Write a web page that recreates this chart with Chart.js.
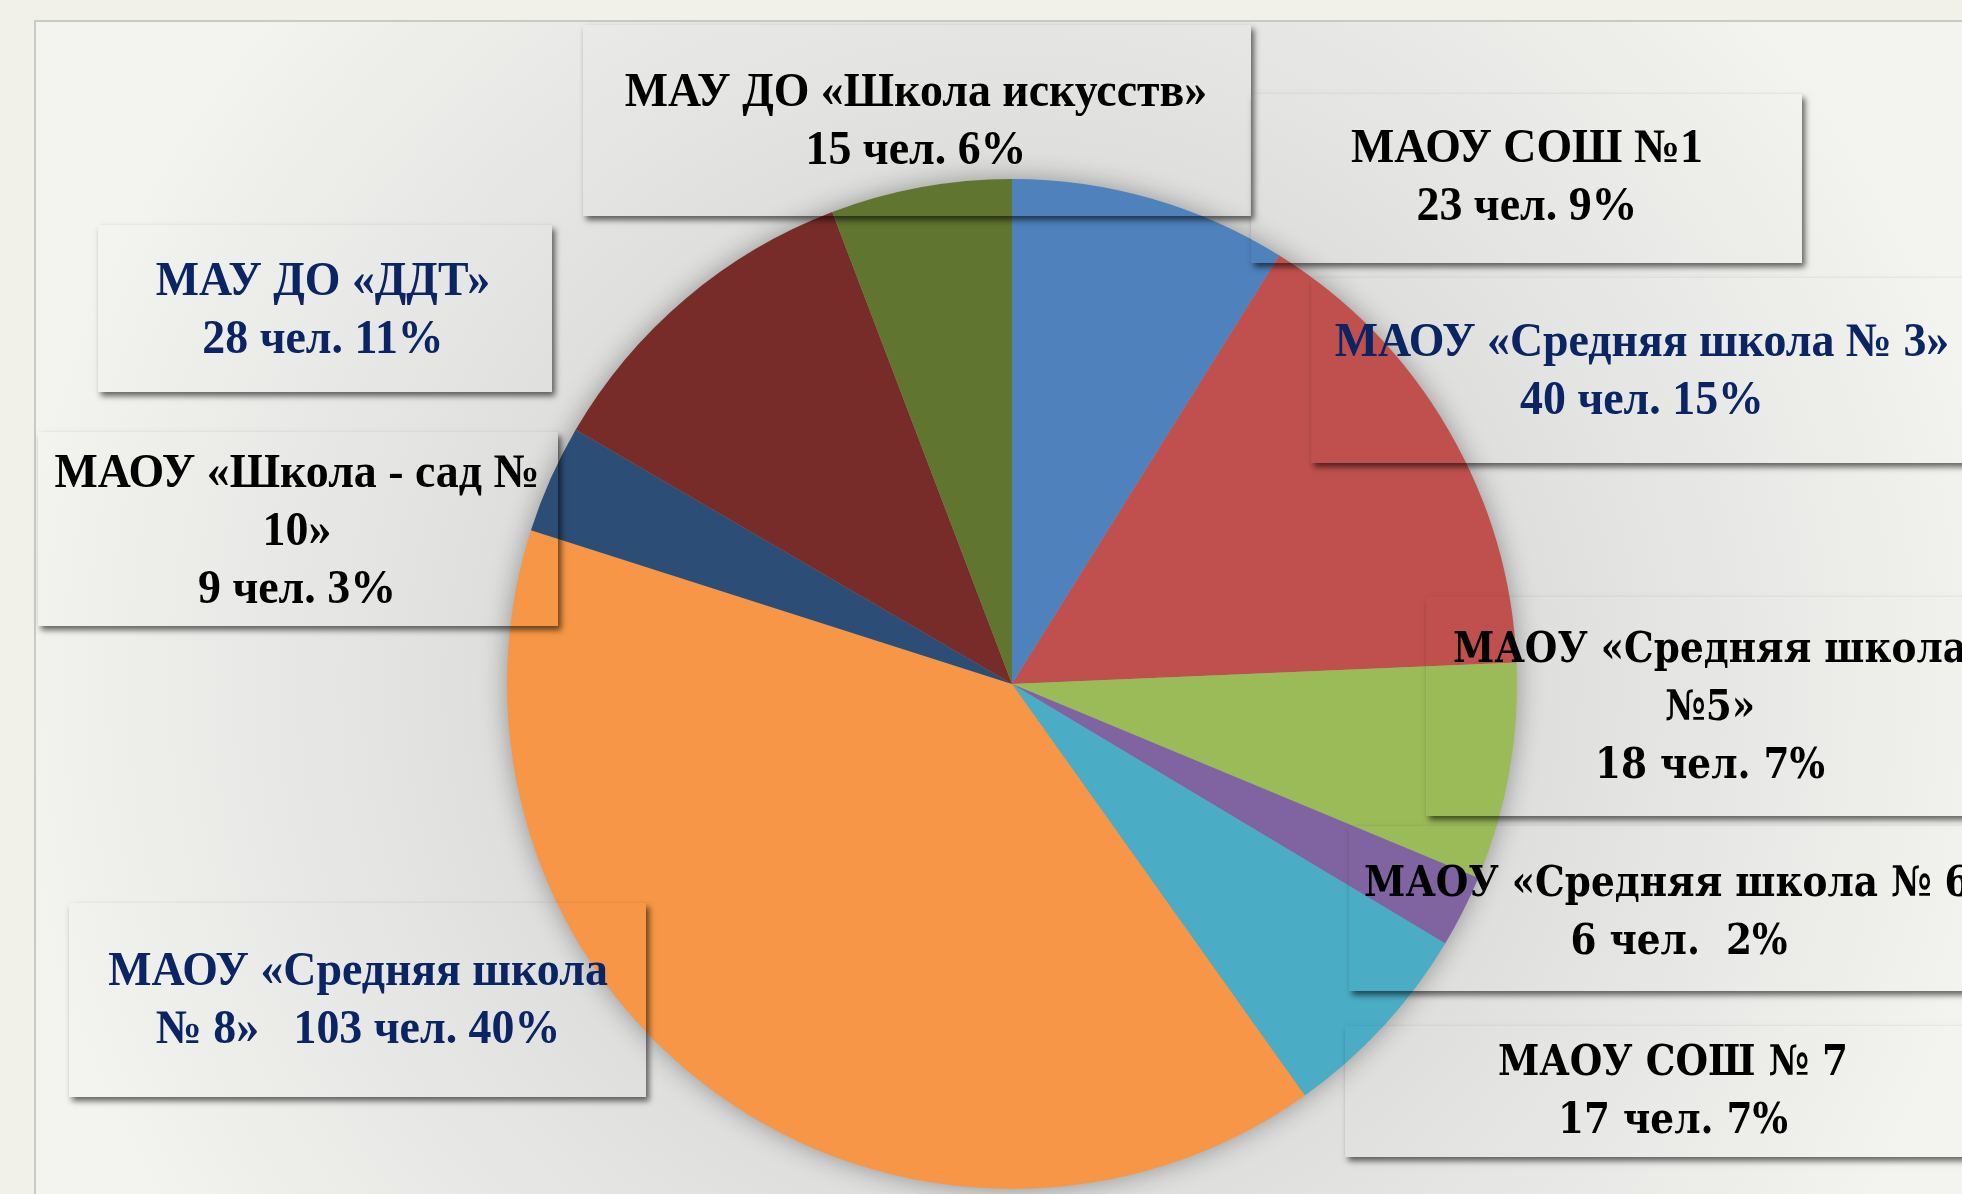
<!DOCTYPE html>
<html lang="ru">
<head>
<meta charset="utf-8">
<title>Распределение по учреждениям</title>
<script src="https://cdn.jsdelivr.net/npm/chart.js@4/dist/chart.umd.min.js"></script>
<style>
  html, body { margin: 0; padding: 0; background: #f1f1ea; }
  #wrap { width: 1962px; height: 1194px; position: relative; }
</style>
</head>
<body>
<div id="wrap"><canvas id="chartPie"></canvas></div>
<script>
// данные диаграммы (по часовой стрелке от 12 часов)
const categories = [
    'МАОУ СОШ №1',
    'МАОУ «Средняя школа № 3»',
    'МАОУ «Средняя школа №5»',
    'МАОУ «Средняя школа № 6»',
    'МАОУ СОШ № 7',
    'МАОУ «Средняя школа № 8»',
    'МАОУ «Школа - сад № 10»',
    'МАУ ДО «ДДТ»',
    'МАУ ДО «Школа искусств»'
];
const people = [23, 40, 18, 6, 17, 103, 9, 28, 15];
const shares = [9, 15, 7, 2, 7, 40, 3, 11, 6];

// как подписи разбиты на строки на слайде ({n} - человек, {p} - процент)
const captionLines = [
    ['МАОУ СОШ №1', '{n} чел. {p}%'],
    ['МАОУ «Средняя школа № 3»', '{n} чел. {p}%'],
    ['МАОУ «Средняя школа', '№5»', '{n} чел. {p}%'],
    ['МАОУ «Средняя школа № 6»', '{n} чел.  {p}%'],
    ['МАОУ СОШ № 7', '{n} чел. {p}%'],
    ['МАОУ «Средняя школа', '№ 8»   {n} чел. {p}%'],
    ['МАОУ «Школа - сад №', '10»', '{n} чел. {p}%'],
    ['МАУ ДО «ДДТ»', '{n} чел. {p}%'],
    ['МАУ ДО «Школа искусств»', '{n} чел. {p}%']
];

const colors = ['#4F81BD', '#C0504D', '#9BBB59', '#8064A2', '#4BACC6',
                '#F79646', '#2C4D75', '#772C2A', '#5F7530'];

// оформление выносок: рамка [x0, y0, x1, y1], центр текста, первая строка, шрифт, цвет
const NAVY = '#0b2463';
const boxes = [
    { r: [1251, 94, 1802, 263],   cx: 1527, y: 150, f: 'times', c: '#000' },
    { r: [1311, 278, 1990, 463],  cx: 1642, y: 344, f: 'times', c: NAVY },
    { r: [1426, 597, 1990, 816],  cx: 1710, y: 651, f: 'pal',   c: '#000' },
    { r: [1349, 826, 1990, 991],  cx: 1679, y: 885, f: 'pal',   c: '#000' },
    { r: [1345, 1026, 1990, 1157], cx: 1673, y: 1064, f: 'pal', c: '#000' },
    { r: [69, 903, 646, 1097],    cx: 358,  y: 973, f: 'times', c: NAVY },
    { r: [38, 432, 558, 626],     cx: 297,  y: 475, f: 'times', c: '#000' },
    { r: [98, 225, 552, 392],     cx: 323,  y: 283, f: 'times', c: NAVY },
    { r: [583, 25, 1251, 216],    cx: 916,  y: 94,  f: 'times', c: '#000' }
];
const LINE = 58;

const backdrop = {
    id: 'backdrop',
    beforeDraw(chart) {
        const ctx = chart.ctx;
        const a = chart.getDatasetMeta(0).data[0];
        ctx.save();
        ctx.fillStyle = '#f1f1ea';
        ctx.fillRect(0, 0, chart.width, chart.height);
        const g = ctx.createRadialGradient(a.x, a.y, a.outerRadius * 0.6, a.x, a.y, a.outerRadius * 2.0);
        g.addColorStop(0, '#d5d5d5');
        g.addColorStop(0.45, '#e3e3e2');
        g.addColorStop(1, '#f3f3ef');
        ctx.fillStyle = g;
        ctx.fillRect(35, 21, chart.width, chart.height);
        ctx.strokeStyle = '#c9c9c6';
        ctx.lineWidth = 2;
        ctx.strokeRect(35, 21, chart.width + 10, chart.height + 10);
        ctx.restore();
    },
    beforeDatasetsDraw(chart) {
        const ctx = chart.ctx;
        const a = chart.getDatasetMeta(0).data[0];
        ctx.save();
        ctx.shadowColor = 'rgba(0,0,0,0.4)';
        ctx.shadowBlur = 28;
        ctx.fillStyle = '#999';
        ctx.beginPath();
        ctx.arc(a.x, a.y, a.outerRadius - 2, 0, Math.PI * 2);
        ctx.fill();
        ctx.restore();
    },
    afterDatasetsDraw(chart) {
        const ctx = chart.ctx;
        boxes.forEach((b, i) => {
            const [x0, y0, x1, y1] = b.r;
            // тень рамки (сама рамка прозрачная)
            ctx.save();
            ctx.beginPath();
            ctx.rect(0, 0, chart.width, chart.height);
            ctx.rect(x0, y0, x1 - x0, y1 - y0);
            ctx.clip('evenodd');
            ctx.shadowColor = 'rgba(0,0,0,0.6)';
            ctx.shadowBlur = 6;
            ctx.shadowOffsetX = 3;
            ctx.shadowOffsetY = 4;
            ctx.fillStyle = '#888';
            ctx.fillRect(x0, y0, x1 - x0, y1 - y0);
            ctx.restore();

            ctx.save();
            ctx.fillStyle = b.c;
            ctx.textAlign = 'center';
            ctx.textBaseline = 'middle';
            const lines = captionLines[i].map(t =>
                t.replace('{n}', people[i]).replace('{p}', shares[i]));
            lines.forEach((t, k) => {
                const ty = b.y + k * LINE;
                ctx.save();
                ctx.translate(b.cx, ty);
                if (b.f === 'times') {
                    ctx.font = 'bold 48px "Liberation Serif", "Times New Roman", serif';
                    ctx.scale(0.955, 1);
                } else {
                    ctx.font = 'bold 42px "DejaVu Serif", serif';
                    ctx.scale(0.89, 1);
                }
                ctx.fillText(t, 0, 0);
                ctx.restore();
            });
            ctx.restore();
        });
    }
};

const chartPie = new Chart(document.getElementById('chartPie'), {
    type: 'pie',
    data: {
        labels: categories,
        datasets: [{
            data: people,
            backgroundColor: colors,
            borderWidth: 0
        }]
    },
    options: {
        responsive: true,
        maintainAspectRatio: false,
        animation: false,
        layout: {
            padding: { left: 507, right: 445, top: 179, bottom: 5 }
        },
        plugins: {
            legend: { display: false },
            tooltip: { enabled: false }
        }
    },
    plugins: [backdrop]
});
</script>
</body>
</html>
